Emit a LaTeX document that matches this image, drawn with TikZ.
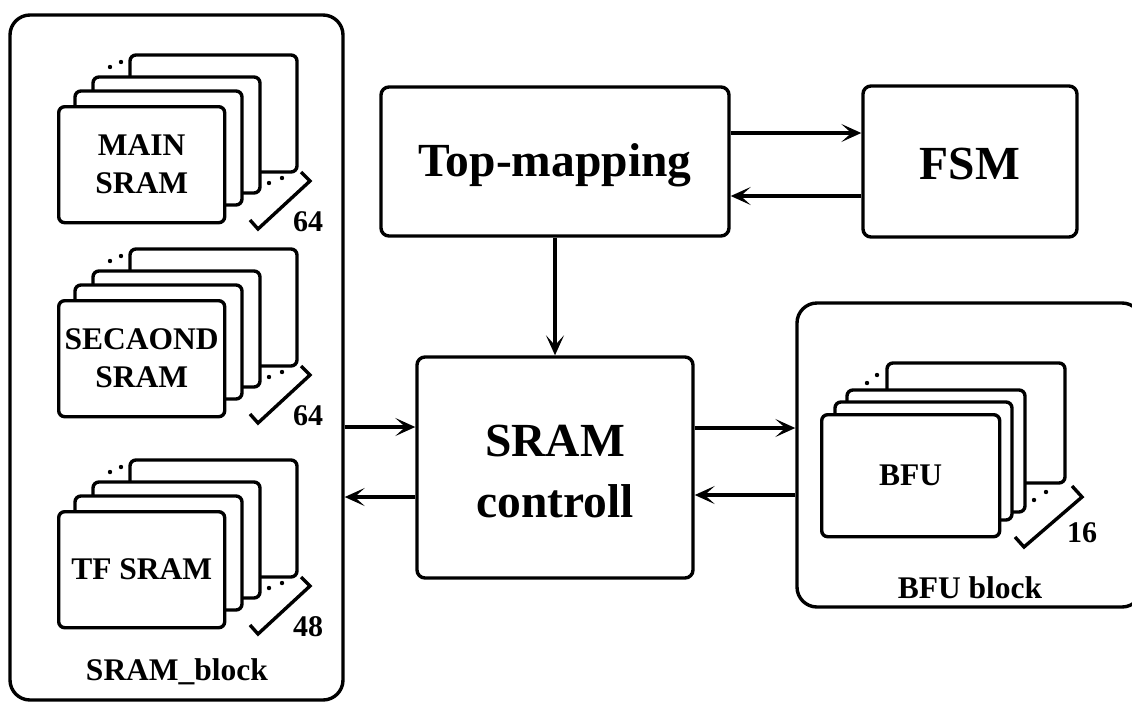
\documentclass[tikz,border=0pt]{standalone}
\usepackage{fontspec}
\setmainfont{Liberation Serif}
\usetikzlibrary{arrows.meta}
\tikzset{
  blockbox/.style={draw, line width=3.4pt, rounded corners=20pt, inner sep=0pt},
  mainbox/.style={draw, line width=3.4pt, rounded corners=8pt, inner sep=0pt, fill=white},
  card/.style={draw, line width=3.4pt, rounded corners=6pt, fill=white},
  brk/.style={line width=3.4pt, line join=miter},
  arr/.style={line width=3.4pt, -{Stealth[length=20pt,width=18pt,inset=10pt]}},
  bigtxt/.style={font=\bfseries\fontsize{47.5}{61}\selectfont, align=center},
  smalltxt/.style={font=\bfseries\fontsize{31.5}{38}\selectfont, align=center},
  numtxt/.style={font=\bfseries\fontsize{30}{32}\selectfont},
}
% #1 name, #2 x, #3 y, #4 text, #5 number
\newcommand{\sramstack}[5]{%
  \begin{scope}[shift={(#2,#3)}]
    \draw[card] (73,-50) rectangle ++(167,117);
    \draw[card] (36,-28) rectangle ++(167,116);
    \draw[card] (18,-14) rectangle ++(167,114);
    \node[card, minimum width=166pt, minimum height=116pt, anchor=north west, inner sep=0pt] (#1front) at (0,0) {};
    \node[smalltxt] (#1text) at (#1front.center) {#4};
    \fill (53,-38) circle (2.2pt) (64,-43) circle (2.2pt);
    \fill (212,78) circle (2.2pt) (225,73) circle (2.2pt);
    \draw[brk] (193,115) -- (201,124) -- (253,76) -- (244,67);
    \node[numtxt] (#1num) at (251,117) {#5};
  \end{scope}
}
\begin{document}
\begin{tikzpicture}[x=1pt,y=-1pt]
\useasboundingbox (0,0) rectangle (1132,702);
\clip (0,0) rectangle (1132,702);
\fill[white] (0,0) rectangle (1132,702);

% outer blocks
\node[blockbox, minimum width=333pt, minimum height=685pt] (sblk) at (176.5,357.5) {};
\node[blockbox, minimum width=345pt, minimum height=304pt] (bblk) at (969.5,455) {};

% SRAM stacks
\sramstack{main}{57}{105}{MAIN\\SRAM}{64}
\sramstack{sec}{57}{299}{SECAOND\\SRAM}{64}
\sramstack{tf}{57}{510}{TF SRAM}{48}
\node[smalltxt] (slabel) at (177,672) {SRAM\_block};

% BFU stack
\begin{scope}[shift={(820,413)}]
  \draw[card] (67,-50) rectangle ++(178,120);
  \draw[card] (27,-23) rectangle ++(178,122);
  \draw[card] (15,-11) rectangle ++(177,118);
  \node[card, minimum width=178pt, minimum height=122pt, anchor=north west, inner sep=0pt] (bfufront) at (0,0) {};
  \node[smalltxt] (bfutext) at (bfufront.center) {BFU};
  \fill (47,-30) circle (2.2pt) (57,-38) circle (2.2pt);
  \fill (214,87) circle (2.2pt) (226,79) circle (2.2pt);
  \draw[brk] (195,124) -- (204,134) -- (262,84) -- (252,73);
  \node[numtxt] (bfunum) at (262,120) {16};
\end{scope}
\node[smalltxt] (blabel) at (970,588) {BFU block};

% main boxes
\node[mainbox, minimum width=348pt, minimum height=149pt] (top) at (555,161.5) {};
\node[bigtxt] (toptext) at ([yshift=-4pt]top.center) {Top-mapping};
\node[mainbox, minimum width=214pt, minimum height=151pt] (fsm) at (970,161.5) {};
\node[bigtxt] (fsmtext) at ([yshift=-3pt]fsm.center) {FSM};
\node[mainbox, minimum width=276pt, minimum height=221pt] (ctrl) at (555,467.5) {};
\node[bigtxt] (ctrltext) at ([yshift=-4pt]ctrl.center) {SRAM\\controll};

% connectors
\draw[arr] (top.east |- 0,133) -- (fsm.west |- 0,133);
\draw[arr] (fsm.west |- 0,196) -- (top.east |- 0,196);
\draw[arr] (top.south) -- (ctrl.north);
\draw[arr] (sblk.east |- 0,427) -- (ctrl.west |- 0,427);
\draw[arr] (ctrl.west |- 0,497) -- (sblk.east |- 0,497);
\draw[arr] (ctrl.east |- 0,428) -- (bblk.west |- 0,428);
\draw[arr] (bblk.west |- 0,495) -- (ctrl.east |- 0,495);
\end{tikzpicture}
\end{document}
